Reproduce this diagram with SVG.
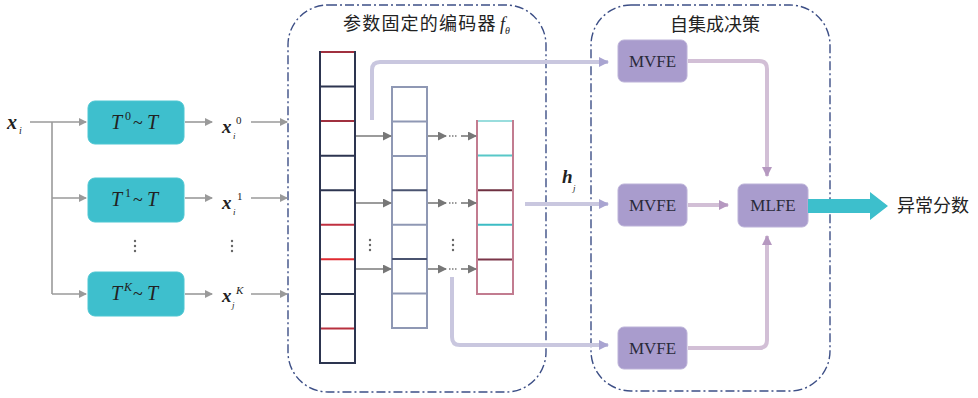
<svg xmlns="http://www.w3.org/2000/svg" width="978" height="398" viewBox="0 0 978 398">
<defs>
<style>
.cont{fill:none;stroke:#3d4f86;stroke-width:1.4;stroke-dasharray:9 3 2 3}
.tbox{fill:#3ebfcd;stroke:#4cc6d2;stroke-width:1}
.mbox{fill:#a99ccd;stroke:#bcb2d8;stroke-width:1}
.math{font-family:"Liberation Serif",serif;font-style:italic;fill:#222}
.rm{font-family:"Liberation Serif",serif;font-style:normal;fill:#222}
.mv{font-family:"Liberation Serif",serif;font-size:17px;fill:#2a2a3a;text-anchor:middle}
.cjk{font-family:"Noto Sans CJK SC","Noto Sans CJK JP",sans-serif;fill:#222}
.ga{fill:none;stroke:#9a9a9a;stroke-width:1.6}
.ea{fill:none;stroke:#7a7a7a;stroke-width:1.6}
.lav{fill:none;stroke:#c9c7df;stroke-width:4}
.pk{fill:none;stroke:#d2bfd6;stroke-width:4}
.dot{fill:#666}
</style>
<marker id="ag" markerWidth="8" markerHeight="8" refX="7" refY="4" orient="auto" markerUnits="userSpaceOnUse"><path d="M0,0 L8,4 L0,8 Z" fill="#9a9a9a"/></marker>
<marker id="ae" markerWidth="9" markerHeight="9" refX="8" refY="4.5" orient="auto" markerUnits="userSpaceOnUse"><path d="M0,0 L9,4.5 L0,9 Z" fill="#777"/></marker>
<marker id="al" markerWidth="10" markerHeight="10" refX="9" refY="5" orient="auto" markerUnits="userSpaceOnUse"><path d="M0,0 L10,5 L0,10 Z" fill="#a9a4d1"/></marker>
<marker id="ap" markerWidth="10" markerHeight="10" refX="9" refY="5" orient="auto" markerUnits="userSpaceOnUse"><path d="M0,0 L10,5 L0,10 Z" fill="#b598c0"/></marker>
</defs>

<!-- containers -->
<g id="encoder">
<rect class="cont" x="288" y="5" width="258" height="387" rx="40"/>
<text class="cjk" x="343" y="30" font-size="18" letter-spacing="1.2">参数固定的编码器</text>
<text class="math" x="500" y="30" font-size="18">f<tspan font-size="10" dy="4">θ</tspan></text>
</g>
<g id="ensemble">
<rect class="cont" x="591" y="5" width="239" height="386" rx="40"/>
<text class="cjk" x="715" y="31" font-size="18" text-anchor="middle">自集成决策</text>
</g>

<!-- input label -->
<g id="xi"><text class="math" x="7" y="129" font-size="20" font-weight="bold">x</text><text class="math" x="19" y="134" font-size="10">i</text></g>

<!-- transform boxes -->
<g id="T0"><rect class="tbox" x="88" y="101" width="96" height="43" rx="7"/><text class="math" x="111" y="129" font-size="20">T</text><text class="rm" x="125" y="120" font-size="12">0</text><text class="rm" x="133" y="129" font-size="18">~</text><text class="math" x="147" y="129" font-size="20">T</text></g>
<g id="T1"><rect class="tbox" x="88" y="178" width="96" height="44" rx="7"/><text class="math" x="111" y="206" font-size="20">T</text><text class="rm" x="125" y="197" font-size="12">1</text><text class="rm" x="133" y="206" font-size="18">~</text><text class="math" x="147" y="206" font-size="20">T</text></g>
<g id="TK"><rect class="tbox" x="88" y="272" width="96" height="44" rx="7"/><text class="math" x="111" y="300" font-size="20">T</text><text class="math" x="124" y="291" font-size="12">K</text><text class="rm" x="133" y="300" font-size="18">~</text><text class="math" x="147" y="300" font-size="20">T</text></g>

<!-- x labels -->
<g id="x0"><text class="math" x="222" y="133" font-size="19" font-weight="bold">x</text><text class="rm" x="236" y="124" font-size="11">0</text><text class="math" x="233" y="139" font-size="9">i</text></g>
<g id="x1"><text class="math" x="222" y="209" font-size="19" font-weight="bold">x</text><text class="rm" x="237" y="200" font-size="11">1</text><text class="math" x="233" y="215" font-size="9">i</text></g>
<g id="xK"><text class="math" x="222" y="302" font-size="19" font-weight="bold">x</text><text class="math" x="236" y="294" font-size="11">K</text><text class="math" x="232" y="308" font-size="9">j</text></g>

<!-- vertical ellipses -->
<g id="vdots">
<circle class="dot" cx="135" cy="241" r="1.2"/><circle class="dot" cx="135" cy="246" r="1.2"/><circle class="dot" cx="135" cy="251" r="1.2"/>
<circle class="dot" cx="232" cy="241" r="1.2"/><circle class="dot" cx="232" cy="246" r="1.2"/><circle class="dot" cx="232" cy="251" r="1.2"/>
<circle class="dot" cx="370" cy="240" r="1.2"/><circle class="dot" cx="370" cy="245" r="1.2"/><circle class="dot" cx="370" cy="250" r="1.2"/>
<circle class="dot" cx="453" cy="240" r="1.2"/><circle class="dot" cx="453" cy="245" r="1.2"/><circle class="dot" cx="453" cy="250" r="1.2"/>
</g>

<!-- encoder columns -->
<g id="col1" fill="none" stroke-width="2">
<rect x="320" y="52" width="35" height="311" stroke="#2d3550"/>
<g stroke="#2d3550"><line x1="320" y1="86.6" x2="355" y2="86.6"/><line x1="320" y1="155.7" x2="355" y2="155.7"/><line x1="320" y1="190.2" x2="355" y2="190.2"/><line x1="320" y1="293.9" x2="355" y2="293.9"/></g>
<line x1="321" y1="52" x2="354" y2="52" stroke="#a0303f"/>
<line x1="321" y1="121.1" x2="354" y2="121.1" stroke="#a0303f"/>
<line x1="321" y1="224.8" x2="354" y2="224.8" stroke="#c03040"/>
<line x1="321" y1="259.3" x2="354" y2="259.3" stroke="#e02a30"/>
<line x1="321" y1="328.4" x2="354" y2="328.4" stroke="#b8303f"/>
</g>
<g id="col2" fill="none" stroke-width="2">
<rect x="392" y="87" width="35" height="241" stroke="#8f98b4"/>
<g stroke="#8f98b4"><line x1="392" y1="121.4" x2="427" y2="121.4"/><line x1="392" y1="155.9" x2="427" y2="155.9"/><line x1="392" y1="224.7" x2="427" y2="224.7"/><line x1="392" y1="293.6" x2="427" y2="293.6"/></g>
<g stroke="#4a5370"><line x1="392" y1="190.3" x2="427" y2="190.3"/><line x1="392" y1="259.1" x2="427" y2="259.1"/></g>
</g>
<g id="col3" fill="none" stroke-width="2">
<rect x="477" y="121" width="36" height="173" stroke="#c27c90"/>
<line x1="478" y1="121" x2="512" y2="121" stroke="#9dd"/>
<line x1="478" y1="155.6" x2="512" y2="155.6" stroke="#58c8c8"/>
<line x1="478" y1="190.2" x2="512" y2="190.2" stroke="#6e3040"/>
<line x1="478" y1="224.8" x2="512" y2="224.8" stroke="#3cbcc4"/>
<line x1="478" y1="259.4" x2="512" y2="259.4" stroke="#7a3548"/>
</g>

<!-- ensemble nodes -->
<g id="mvfe1"><rect class="mbox" x="618" y="40" width="69" height="42" rx="6"/><text class="mv" x="652.5" y="67">MVFE</text></g>
<g id="mvfe2"><rect class="mbox" x="618" y="184" width="69" height="42" rx="6"/><text class="mv" x="652.5" y="211">MVFE</text></g>
<g id="mvfe3"><rect class="mbox" x="618" y="327" width="69" height="42" rx="6"/><text class="mv" x="652.5" y="354">MVFE</text></g>
<g id="mlfe"><rect class="mbox" x="738" y="184" width="70" height="43" rx="6"/><text class="mv" x="773" y="211">MLFE</text></g>

<g id="hj"><text class="math" x="562" y="183" font-size="19" font-weight="bold">h</text><text class="math" x="573" y="191" font-size="9">j</text></g>

<g id="score"><text class="cjk" x="897" y="212" font-size="18">异常分数</text></g>

<!-- connectors -->
<g id="connectors">
<path class="ga" d="M30,122 H86" marker-end="url(#ag)"/>
<path class="ga" d="M52,122 V294"/>
<path class="ga" d="M52,198 H86" marker-end="url(#ag)"/>
<path class="ga" d="M52,294 H86" marker-end="url(#ag)"/>
<path class="ga" d="M185,122 H212" marker-end="url(#ag)" stroke-width="2"/>
<path class="ga" d="M185,198 H212" marker-end="url(#ag)" stroke-width="1" stroke="#b5b5b5"/>
<path class="ga" d="M185,294 H212" marker-end="url(#ag)" stroke-width="2"/>
<path class="ga" d="M251,122 H287" marker-end="url(#ag)" stroke-width="2"/>
<path class="ga" d="M251,198 H287" marker-end="url(#ag)" stroke-width="1" stroke="#b5b5b5"/>
<path class="ga" d="M251,294 H287" marker-end="url(#ag)" stroke-width="2"/>

<path class="ea" d="M356,136 H391" marker-end="url(#ae)"/>
<path class="ea" d="M356,203 H391" marker-end="url(#ae)"/>
<path class="ea" d="M356,269 H391" marker-end="url(#ae)"/>
<path class="ea" d="M428,136 H446" marker-end="url(#ae)"/>
<path class="ea" d="M428,203 H446" marker-end="url(#ae)"/>
<path class="ea" d="M428,269 H446" marker-end="url(#ae)"/>
<path class="ea" d="M449,136 H458" stroke-dasharray="1.5 1.5"/>
<path class="ea" d="M449,203 H458" stroke-dasharray="1.5 1.5"/>
<path class="ea" d="M449,269 H458" stroke-dasharray="1.5 1.5"/>
<path class="ea" d="M461,136 H476" marker-end="url(#ae)"/>
<path class="ea" d="M461,203 H476" marker-end="url(#ae)"/>
<path class="ea" d="M461,269 H476" marker-end="url(#ae)"/>

<path class="lav" d="M372,120 V70 Q372,62 380,62 H608" marker-end="url(#al)"/>
<path class="lav" d="M525,204 H608" marker-end="url(#al)"/>
<path class="lav" d="M452,277 V337 Q452,345 460,345 H608" marker-end="url(#al)"/>

<path class="pk" d="M688,61 H759 Q767,61 767,69 V176" marker-end="url(#ap)"/>
<path class="pk" d="M688,205 H728" marker-end="url(#ap)"/>
<path class="pk" d="M688,348 H759 Q767,348 767,340 V236" marker-end="url(#ap)"/>

<polygon points="808,199 870,199 870,192 888,206 870,220 870,213 808,213" fill="#3dbfcc"/>
</g>
</svg>
